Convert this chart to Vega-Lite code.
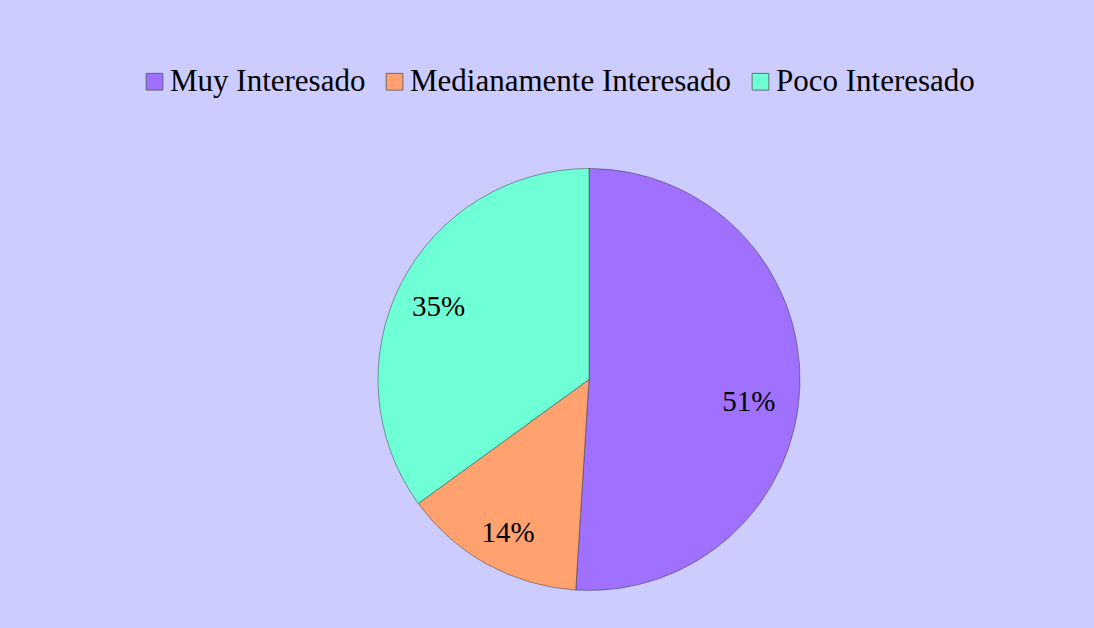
{
  "$schema": "https://vega.github.io/schema/vega-lite/v6.json",
  "autosize": {"type": "none"},
  "width": 1010,
  "height": 497,
  "padding": {"left": 84, "top": 131, "right": 0, "bottom": 0},
  "background": "#CCCCFF",
  "config": {"view": {"stroke": null}},
  "data": {
    "values": [
      {"categoria": "Muy Interesado", "valor": 51, "orden": 1, "etiqueta": "51%"},
      {"categoria": "Medianamente Interesado", "valor": 14, "orden": 2, "etiqueta": "14%"},
      {"categoria": "Poco Interesado", "valor": 35, "orden": 3, "etiqueta": "35%"}
    ]
  },
  "encoding": {
    "theta": {"field": "valor", "type": "quantitative", "stack": true},
    "order": {"field": "orden", "type": "quantitative"}
  },
  "layer": [
    {
      "mark": {"type": "arc", "outerRadius": 211, "stroke": "#333333", "strokeWidth": 0.8, "strokeOpacity": 0.6},
      "encoding": {
        "color": {
          "field": "categoria",
          "type": "nominal",
          "scale": {
            "domain": ["Muy Interesado", "Medianamente Interesado", "Poco Interesado"],
            "range": ["#A071FF", "#FFA26F", "#6FFFD7"]
          },
          "legend": {
            "title": null,
            "orient": "none",
            "direction": "horizontal",
            "legendX": 55,
            "legendY": -65,
            "padding": 0,
            "symbolType": "square",
            "symbolSize": 280,
            "symbolStrokeWidth": 0.8,
            "symbolStrokeColor": "#555555",
            "labelFont": "Liberation Serif",
            "labelFontSize": 31,
            "labelColor": "#000000",
            "labelOffset": 0,
            "columnPadding": 13,
            "labelLimit": 500
          }
        }
      }
    },
    {
      "mark": {"type": "text", "radius": 170, "font": "Liberation Serif", "fontSize": 29, "color": "#000000", "dx": 1, "dy": 5},
      "encoding": {"text": {"condition": {"test": "datum.orden != 1", "field": "etiqueta"}, "value": ""}}
    },
    {
      "mark": {"type": "text", "radius": 170, "font": "Liberation Serif", "fontSize": 29, "color": "#000000", "dx": -10, "dy": 17},
      "encoding": {"text": {"condition": {"test": "datum.orden == 1", "field": "etiqueta"}, "value": ""}}
    }
  ]
}
